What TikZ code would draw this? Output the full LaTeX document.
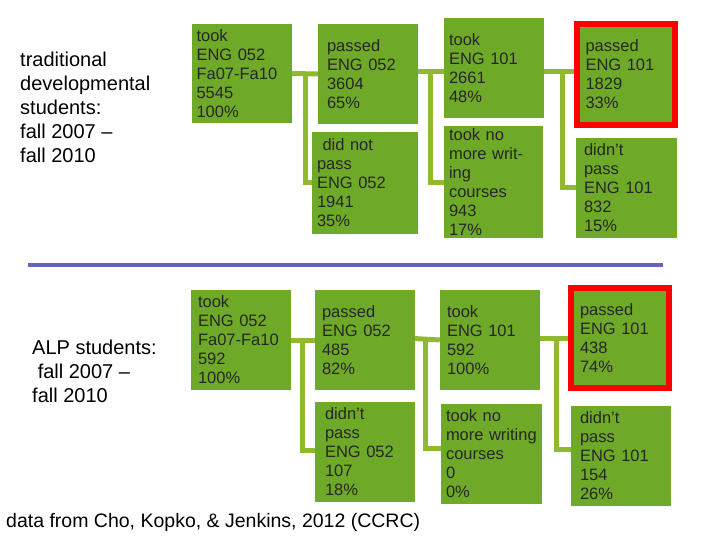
\documentclass[tikz,border=0pt]{standalone}
\usepackage{fontspec}
\setmainfont{Liberation Sans}
\usetikzlibrary{calc,backgrounds}
\definecolor{boxg}{RGB}{110,170,40}
\definecolor{lineg}{RGB}{145,185,45}
\definecolor{sep}{RGB}{100,100,185}
\tikzset{
 box/.style={fill=boxg, inner xsep=5pt, inner ysep=2pt, minimum height=100pt, align=left, font=\fontsize{16.5}{19}\selectfont, text=black!85},
 hot/.style={box, draw=red, line width=6pt, inner xsep=9pt},
 conn/.style={draw=lineg, line width=5pt},
 lbl/.style={align=left, anchor=north west, font=\fontsize{20}{24}\selectfont, inner sep=0pt}
}
\begin{document}
\begin{tikzpicture}[x=1pt,y=-1pt]
\useasboundingbox (0,0) rectangle (720,540);
% top
\node[box, text width=90pt, minimum height=99pt] (A) at (241.5,73.5) {took\\ENG 052\\Fa07-Fa10\\5545\\100\%};
\node[box, text width=82pt, inner xsep=9pt] (B) at (368,74) {passed\\ENG 052\\3604\\65\%};
\node[box, text width=90pt] (C) at (494,68) {took\\ENG 101\\2661\\48\%};
\node[hot, text width=80pt, minimum height=101pt] (D) at (625.5,74.5) {passed\\ENG 101\\1829\\33\%};
\node[box, text width=96pt, minimum height=102pt] (E) at (365,183) {\ did not pass\\ENG 052\\1941\\35\%};
\node[box, text width=89pt] (F) at (493.5,182) {took no\\more writing\\courses\\943\\17\%};
\node[box, text width=85pt, inner xsep=8pt] (G) at (626.5,188) {didn't\\pass\\ENG 101\\832\\15\%};
% bottom
\node[box, text width=86pt, inner xsep=7pt] (A2) at (241,340) {took\\ENG 052\\Fa07-Fa10\\592\\100\%};
\node[box, text width=86pt, inner xsep=7pt] (B2) at (365,340) {passed\\ENG 052\\485\\82\%};
\node[box, text width=86pt, inner xsep=7pt] (C2) at (490,340) {took\\ENG 101\\592\\100\%};
\node[hot, text width=80pt, minimum height=100pt] (D2) at (620,338) {passed\\ENG 101\\438\\74\%};
\node[box, text width=80pt, inner xsep=10pt] (E2) at (365,452) {didn't\\pass\\ENG 052\\107\\18\%};
\node[box, text width=91pt] (F2) at (491.5,454) {took no\\more writing\\courses\\0\\0\%};
\node[box, text width=82pt, inner xsep=9pt] (G2) at (621,456) {didn't\\pass\\ENG 101\\154\\26\%};
\begin{scope}[on background layer]
\draw[conn] (A.east) -- (B.west);
\draw[conn] ($(A.east)+(14,0)$) |- ($(E.west)+(8,0)$);
\draw[conn] ($(B.east)+(-8,-2)$) -- ($(C.west)+(8,4)$);
\draw[conn] ($(B.east)+(12,-2)$) |- ($(F.west)+(20,1)$);
\draw[conn] ($(C.east)+(-6,4)$) -- ($(D.west)+(0,-2.5)$);
\draw[conn] ($(C.east)+(18,4)$) |- ($(G.west)+(10,0)$);
\draw[conn] (A2.east) -- (B2.west);
\draw[conn] ($(A2.east)+(11,0)$) |- ($(E2.west)+(8,-2)$);
\draw[conn] ($(B2.east)+(-10,-2)$) -- (C2.west);
\draw[conn] ($(B2.east)+(10,-2)$) |- ($(F2.west)+(8,-6)$);
\draw[conn] ($(C2.east)+(-10,-2)$) -- (D2.west);
\draw[conn] ($(C2.east)+(16,-2)$) |- ($(G2.west)+(10,-7)$);
\end{scope}
\coordinate (s1) at (28,265);
\coordinate (s2) at (663,265);
\draw[sep, line width=4pt] (s1) -- (s2);
\node[lbl] (t1) at (20,52) {traditional\\developmental\\students:\\fall 2007 --\\fall 2010};
\node[lbl] (t2) at (32,340) {ALP students:\\\ fall 2007 --\\fall 2010};
\node[lbl, font=\fontsize{19.5}{22}\selectfont] (cap) at (6,513) {data from Cho, Kopko, \& Jenkins, 2012 (CCRC)};
\end{tikzpicture}
\end{document}
